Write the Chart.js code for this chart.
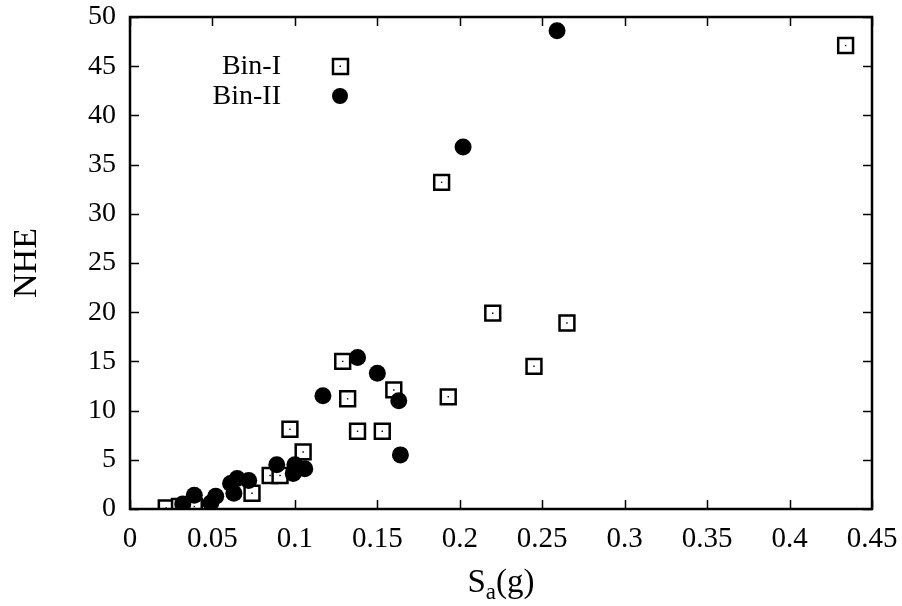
<!DOCTYPE html>
<html>
<head>
<meta charset="utf-8">
<script src="https://cdn.jsdelivr.net/npm/chart.js@4/dist/chart.umd.min.js"></script>
<style>
  html, body { margin: 0; padding: 0; background: #fff; }
  #wrap { width: 902px; height: 606px; }
</style>
</head>
<body>
<div id="wrap"><canvas id="nhe"></canvas></div>
<script>
// Bin-I records (open squares)
const binISa  = [0.022, 0.030, 0.039, 0.074, 0.085, 0.091, 0.097, 0.105, 0.129, 0.132,
                 0.138, 0.153, 0.160, 0.189, 0.193, 0.220, 0.245, 0.265, 0.434];
const binINhe = [0.1, 0.25, 0.25, 1.6, 3.4, 3.4, 8.1, 5.8, 15.0, 11.2,
                 7.9, 7.9, 12.1, 33.2, 11.4, 19.9, 14.5, 18.9, 47.1];

// Bin-II records (filled circles)
const binIISa  = [0.032, 0.039, 0.049, 0.052, 0.061, 0.065, 0.063, 0.072, 0.089, 0.100,
                  0.106, 0.099, 0.117, 0.138, 0.150, 0.163, 0.164, 0.202, 0.259];
const binIINhe = [0.5, 1.4, 0.6, 1.3, 2.6, 3.1, 1.6, 2.9, 4.5, 4.5,
                  4.1, 3.6, 11.5, 15.4, 13.8, 11.0, 5.5, 36.8, 48.6];

const xTickValues = [0, 0.05, 0.1, 0.15, 0.2, 0.25, 0.3, 0.35, 0.4, 0.45];
const yTickValues = [0, 5, 10, 15, 20, 25, 30, 35, 40, 45, 50];
const legendLabels = ['Bin-I', 'Bin-II'];

const SERIF = "'Liberation Serif', 'Times New Roman', serif";

const toPoints = (xs, ys) => xs.map((x, i) => ({ x: x, y: ys[i] }));

// frame, inward ticks on all four sides, x title with subscript, legend
const framePlugin = {
    id: 'frame',
    afterDatasetsDraw(chart) {
        const { ctx, chartArea: a, scales } = chart;
        const tick = 9;
        ctx.save();
        ctx.strokeStyle = '#000';
        ctx.lineWidth = 1.5;
        ctx.beginPath();
        xTickValues.forEach(v => {
            const px = Math.round(scales.x.getPixelForValue(v)) + 0.5;
            ctx.moveTo(px, a.bottom); ctx.lineTo(px, a.bottom - tick);
            ctx.moveTo(px, a.top); ctx.lineTo(px, a.top + tick);
        });
        yTickValues.forEach(v => {
            const py = Math.round(scales.y.getPixelForValue(v)) + 0.5;
            ctx.moveTo(a.left, py); ctx.lineTo(a.left + tick, py);
            ctx.moveTo(a.right, py); ctx.lineTo(a.right - tick, py);
        });
        ctx.stroke();
        ctx.lineWidth = 2.5;
        ctx.strokeRect(a.left, a.top, a.right - a.left, a.bottom - a.top);

        // x axis title: S_a(g)
        ctx.fillStyle = '#000';
        ctx.textBaseline = 'alphabetic';
        const big = '33px ' + SERIF, small = '23px ' + SERIF;
        ctx.font = big;
        const wS = ctx.measureText('S').width, wG = ctx.measureText('(g)').width;
        ctx.font = small;
        const wA = ctx.measureText('a').width;
        let tx = (a.left + a.right) / 2 - (wS + wA + wG) / 2;
        const base = 592;
        ctx.font = big; ctx.textAlign = 'left';
        ctx.fillText('S', tx, base); tx += wS;
        ctx.font = small;
        ctx.fillText('a', tx, base + 7); tx += wA;
        ctx.font = big;
        ctx.fillText('(g)', tx, base);

        // legend
        ctx.font = '28px ' + SERIF;
        ctx.textAlign = 'right';
        ctx.textBaseline = 'middle';
        ctx.fillText(legendLabels[0], 281, 67);
        ctx.fillText(legendLabels[1], 281, 97);
        ctx.fillStyle = '#fff';
        ctx.lineWidth = 2.5;
        ctx.fillRect(333, 59, 15, 15);
        ctx.strokeRect(333, 59, 15, 15);
        ctx.fillStyle = '#000';
        ctx.fillRect(339.5, 65.5, 1.5, 1.5);
        ctx.beginPath();
        ctx.arc(340, 96, 8, 0, Math.PI * 2);
        ctx.fill();
        ctx.restore();
    }
};

new Chart(document.getElementById('nhe'), {
    type: 'scatter',
    data: {
        datasets: [
            {
                label: 'Bin-II',
                data: toPoints(binIISa, binIINhe),
                pointStyle: 'circle',
                pointRadius: 8.5,
                pointBackgroundColor: '#000',
                pointBorderWidth: 0,
                order: 1
            },
            {
                label: 'Bin-I centre',
                data: toPoints(binISa, binINhe),
                pointStyle: 'rect',
                pointRadius: 1,
                pointBackgroundColor: '#000',
                pointBorderWidth: 0,
                order: 2
            },
            {
                label: 'Bin-I',
                data: toPoints(binISa, binINhe),
                pointStyle: 'rect',
                pointRadius: 10.5,
                pointBackgroundColor: '#fff',
                pointBorderColor: '#000',
                pointBorderWidth: 2.5,
                order: 3
            }
        ]
    },
    options: {
        responsive: true,
        maintainAspectRatio: false,
        animation: false,
        layout: { padding: { top: 17, right: 30, left: 0, bottom: 0 } },
        plugins: {
            legend: { display: false },
            tooltip: { enabled: false }
        },
        scales: {
            x: {
                type: 'linear',
                min: 0,
                max: 0.45,
                afterBuildTicks: s => { s.ticks = xTickValues.map(v => ({ value: v })); },
                afterFit: s => { s.height = 97; s.paddingLeft = 0; s.paddingRight = 0; },
                grid: { display: false, drawTicks: false },
                border: { display: false },
                ticks: {
                    color: '#000',
                    padding: 13,
                    maxRotation: 0,
                    font: { family: SERIF, size: 29 },
                    callback: v => String(+Number(v).toFixed(2))
                }
            },
            y: {
                type: 'linear',
                min: 0,
                max: 50,
                afterBuildTicks: s => { s.ticks = yTickValues.map(v => ({ value: v })); },
                afterFit: s => { s.width = 130; s.paddingTop = 0; s.paddingBottom = 0; },
                grid: { display: false, drawTicks: false },
                border: { display: false },
                ticks: {
                    color: '#000',
                    padding: 14,
                    font: { family: SERIF, size: 28 }
                },
                title: {
                    display: true,
                    text: 'NHE',
                    color: '#000',
                    padding: { top: 7, bottom: 0 },
                    font: { family: SERIF, size: 34 }
                }
            }
        }
    },
    plugins: [framePlugin]
});
</script>
</body>
</html>
